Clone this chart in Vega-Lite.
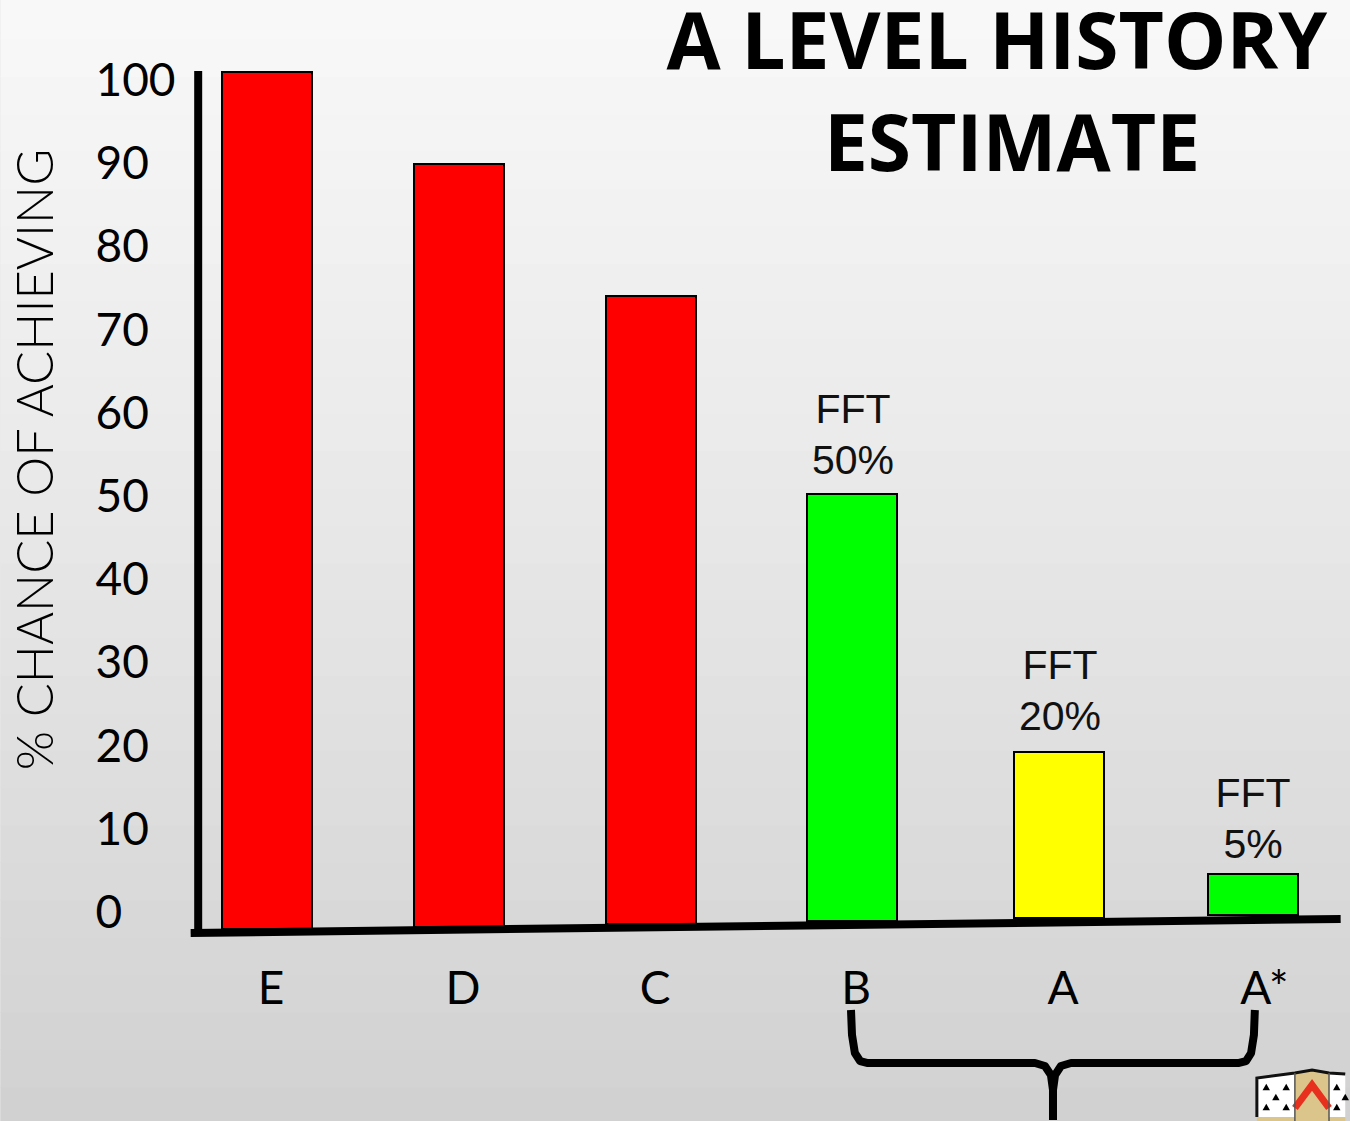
{
"$schema":"https://vega.github.io/schema/vega-lite/v6.json",
"width":1350,"height":1121,"padding":0,
"autosize":{"type":"fit","contains":"padding"},
"datasets":{
"shade":[
{"rank":-1.414,"end":5.54,"level":-21,"base":-25.12},{"rank":-1.414,"end":5.54,"level":-16.5,"base":-21.1},{"rank":-1.414,"end":5.54,"level":-12,"base":-16.6},{"rank":-1.414,"end":5.54,"level":-7.5,"base":-12.1},{"rank":-1.414,"end":5.54,"level":-3,"base":-7.6},
{"rank":-1.414,"end":5.54,"level":1.5,"base":-3.1},{"rank":-1.414,"end":5.54,"level":6,"base":1.4},{"rank":-1.414,"end":5.54,"level":10.5,"base":5.9},{"rank":-1.414,"end":5.54,"level":15,"base":10.4},{"rank":-1.414,"end":5.54,"level":19.5,"base":14.9},
{"rank":-1.414,"end":5.54,"level":24,"base":19.4},{"rank":-1.414,"end":5.54,"level":28.5,"base":23.9},{"rank":-1.414,"end":5.54,"level":33,"base":28.4},{"rank":-1.414,"end":5.54,"level":37.5,"base":32.9},{"rank":-1.414,"end":5.54,"level":42,"base":37.4},
{"rank":-1.414,"end":5.54,"level":46.5,"base":41.9},{"rank":-1.414,"end":5.54,"level":51,"base":46.4},{"rank":-1.414,"end":5.54,"level":55.5,"base":50.9},{"rank":-1.414,"end":5.54,"level":60,"base":55.4},{"rank":-1.414,"end":5.54,"level":64.5,"base":59.9},
{"rank":-1.414,"end":5.54,"level":69,"base":64.4},{"rank":-1.414,"end":5.54,"level":73.5,"base":68.9},{"rank":-1.414,"end":5.54,"level":78,"base":73.4},{"rank":-1.414,"end":5.54,"level":82.5,"base":77.9},{"rank":-1.414,"end":5.54,"level":87,"base":82.4},
{"rank":-1.414,"end":5.54,"level":91.5,"base":86.9},{"rank":-1.414,"end":5.54,"level":96,"base":91.4},{"rank":-1.414,"end":5.54,"level":100.5,"base":95.9},{"rank":-1.414,"end":5.54,"level":105,"base":100.4},{"rank":-1.414,"end":5.54,"level":109.62,"base":104.9}],
"bars":[
{"grade":"E","rank":0,"level":100.96,"base":-2.04,"rating":"unlikely"},
{"grade":"D","rank":1,"level":89.9,"base":-1.8,"rating":"unlikely"},
{"grade":"C","rank":2,"level":74.04,"base":-1.44,"rating":"unlikely"},
{"grade":"B","rank":3,"level":50.24,"base":-1.08,"rating":"on target"},
{"grade":"A","rank":4,"level":19.23,"base":-0.72,"rating":"stretch"},
{"grade":"A*","rank":5,"level":4.57,"base":-0.36,"rating":"on target"}],
"gradeLabels":[
{"grade":"E","rank":0,"level":-9.35},{"grade":"D","rank":1,"level":-9.35},{"grade":"C","rank":2,"level":-9.35},
{"grade":"B","rank":3,"level":-9.35},{"grade":"A","rank":4,"level":-9.35},{"grade":"A*","rank":5.04,"level":-9.35}],
"fft":[
{"label":"FFT\n50%","rank":3.005,"level":57.4},
{"label":"FFT\n20%","rank":4.005,"level":26.7},
{"label":"FFT\n5%","rank":5,"level":11.3}],
"titleLines":[
{"label":"A LEVEL HISTORY","rank":3.7,"level":104.2},
{"label":"ESTIMATE","rank":3.773,"level":92}],
"yLine":[{"rank":-0.365,"level":101.08,"base":-2.4}],
"xLine":[{"rank":-0.405,"level":-2.52},{"rank":5.475,"level":-0.84}],
"brace":[
{"arm":"l","o":0,"rank":2.995,"level":-11.78},{"arm":"l","o":1,"rank":3,"level":-14.78},{"arm":"l","o":2,"rank":3.014,"level":-16.95},{"arm":"l","o":3,"rank":3.039,"level":-17.91},{"arm":"l","o":4,"rank":3.077,"level":-18.15},{"arm":"l","o":5,"rank":3.884,"level":-18.15},{"arm":"l","o":6,"rank":3.932,"level":-18.51},{"arm":"l","o":7,"rank":3.961,"level":-19.59},{"arm":"l","o":8,"rank":3.971,"level":-21.39},{"arm":"l","o":9,"rank":3.971,"level":-25},
{"arm":"r","o":0,"rank":5.01,"level":-11.78},{"arm":"r","o":1,"rank":5.005,"level":-14.78},{"arm":"r","o":2,"rank":4.99,"level":-16.95},{"arm":"r","o":3,"rank":4.964,"level":-17.91},{"arm":"r","o":4,"rank":4.923,"level":-18.15},{"arm":"r","o":5,"rank":4.062,"level":-18.15},{"arm":"r","o":6,"rank":4.01,"level":-18.51},{"arm":"r","o":7,"rank":3.981,"level":-19.59},{"arm":"r","o":8,"rank":3.971,"level":-21.39},{"arm":"r","o":9,"rank":3.971,"level":-25}],
"crestAreas":[
{"part":"field","side":"l","rank":5.021,"level":-19.95,"base":-24.64},{"part":"field","side":"l","rank":5.227,"level":-19.35,"base":-24.64},
{"part":"field","side":"r","rank":5.412,"level":-19.35,"base":-24.64},{"part":"field","side":"r","rank":5.5,"level":-19.47,"base":-24.64},
{"part":"gold","side":"c","rank":5.227,"level":-19.35,"base":-25.12},{"part":"gold","side":"c","rank":5.32,"level":-18.99,"base":-25.12},{"part":"gold","side":"c","rank":5.412,"level":-19.35,"base":-25.12},
{"part":"gold","side":"bl","rank":5.021,"level":-24.64,"base":-25.12},{"part":"gold","side":"bl","rank":5.227,"level":-24.64,"base":-25.12},
{"part":"gold","side":"br","rank":5.412,"level":-24.64,"base":-25.12},{"part":"gold","side":"br","rank":5.5,"level":-24.64,"base":-25.12}],
"crestChevron":[{"o":0,"rank":5.227,"level":-23.56},{"o":1,"rank":5.32,"level":-20.79},{"o":2,"rank":5.412,"level":-23.56}],
"crestOutline":[
{"seg":"edge","o":0,"rank":5.021,"level":-24.64},{"seg":"edge","o":1,"rank":5.021,"level":-19.95},{"seg":"edge","o":2,"rank":5.227,"level":-19.35},{"seg":"edge","o":3,"rank":5.32,"level":-18.99},{"seg":"edge","o":4,"rank":5.412,"level":-19.35},{"seg":"edge","o":5,"rank":5.5,"level":-19.47}],
"crestSeams":[
{"seg":"s1","o":0,"rank":5.227,"level":-19.35},{"seg":"s1","o":1,"rank":5.227,"level":-25.12},
{"seg":"s2","o":0,"rank":5.412,"level":-19.35},{"seg":"s2","o":1,"rank":5.412,"level":-25.12}],
"ermine":[
{"rank":5.072,"level":-21.03},{"rank":5.18,"level":-21.03},{"rank":5.124,"level":-22.24},{"rank":5.072,"level":-23.44},{"rank":5.18,"level":-23.44},
{"rank":5.454,"level":-21.03},{"rank":5.454,"level":-23.44},{"rank":5.5,"level":-22.24}]
},
"encoding":{
"x":{"field":"rank","type":"quantitative","axis":null,
"scale":{"domain":[-1.390625,0,1,2,3,4,5,5.5],"range":[0,267,459,651,852,1059,1253,1350],"nice":false,"zero":false}},
"y":{"field":"level","type":"quantitative",
"scale":{"domain":[-25.12,109.62],"range":[1121,0],"nice":false,"zero":false},
"axis":{"orient":"left","offset":-95,"values":[0,10,20,30,40,50,60,70,80,90,100],"domain":false,"ticks":false,"grid":false,"zindex":1,
"labelAlign":"left","labelPadding":0,"labelFont":"Lato","labelFontSize":46,"labelColor":"#000000","labelBaseline":"middle","labelOverlap":false,"labelOffset":1.5,
"title":"% CHANCE OF ACHIEVING","titleFont":"Lato","titleFontSize":50.5,"titleFontWeight":300,"titleColor":"#000000","titleX":-58,"titleY":459,"titleAngle":-90,"titleAlign":"center","titleBaseline":"middle"}}
},
"layer":[
{"data":{"name":"shade"},
 "mark":{"type":"rect","opacity":1},
 "encoding":{"x2":{"field":"end"},"y2":{"field":"base"},
  "color":{"field":"level","type":"quantitative","legend":null,"scale":{"domain":[-25,50,110],"range":["#d0d0d0","#e8e8e8","#f8f8f8"],"interpolate":"rgb"}}}},
{"data":{"name":"bars"},
 "mark":{"type":"bar","size":90,"stroke":"#000000","strokeWidth":2},
 "encoding":{"y2":{"field":"base"},
  "color":{"field":"rating","type":"nominal","legend":null,"scale":{"domain":["unlikely","on target","stretch"],"range":["#ff0000","#00ff00","#ffff00"]}}}},
{"data":{"name":"yLine"},"mark":{"type":"rule","strokeWidth":8,"color":"#000000"},"encoding":{"y2":{"field":"base"}}},
{"data":{"name":"xLine"},"mark":{"type":"line","strokeWidth":8,"color":"#000000"}},
{"data":{"name":"gradeLabels"},"mark":{"type":"text","font":"Lato","fontSize":46,"dx":4,"color":"#000000","align":"center","baseline":"middle"},"encoding":{"text":{"field":"grade"}}},
{"data":{"name":"fft"},"mark":{"type":"text","font":"Liberation Sans","fontSize":41,"lineBreak":"\n","lineHeight":51,"dy":-23,"color":"#111111","align":"center","baseline":"middle"},"encoding":{"text":{"field":"label"}}},
{"data":{"name":"titleLines"},"mark":{"type":"text","font":"Open Sans","fontWeight":"bold","fontSize":78.5,"color":"#000000","align":"center","baseline":"middle"},"encoding":{"text":{"field":"label"}}},
{"data":{"name":"brace"},"mark":{"type":"line","strokeWidth":8,"color":"#000000","strokeCap":"butt","strokeJoin":"round"},"encoding":{"detail":{"field":"arm"},"order":{"field":"o"}}},
{"data":{"name":"crestAreas"},"mark":{"type":"area","opacity":1},"encoding":{"y2":{"field":"base"},"detail":{"field":"side"},
  "color":{"field":"part","type":"nominal","legend":null,"scale":{"domain":["field","gold"],"range":["#ffffff","#dcc58a"]}}}},
{"data":{"name":"crestChevron"},"mark":{"type":"line","strokeWidth":7,"color":"#e8301f","strokeJoin":"miter"},"encoding":{"order":{"field":"o"}}},
{"data":{"name":"crestOutline"},"mark":{"type":"line","strokeWidth":3,"color":"#111111"},"encoding":{"order":{"field":"o"}}},
{"data":{"name":"crestSeams"},"mark":{"type":"line","strokeWidth":1.5,"color":"#555555"},"encoding":{"detail":{"field":"seg"},"order":{"field":"o"}}},
{"data":{"name":"ermine"},"mark":{"type":"point","shape":"triangle-up","filled":true,"size":55,"color":"#000000","opacity":1}}
],
"resolve":{"scale":{"color":"independent"}},
"config":{"view":{"stroke":null},"background":"#e8e8e8"}
}
